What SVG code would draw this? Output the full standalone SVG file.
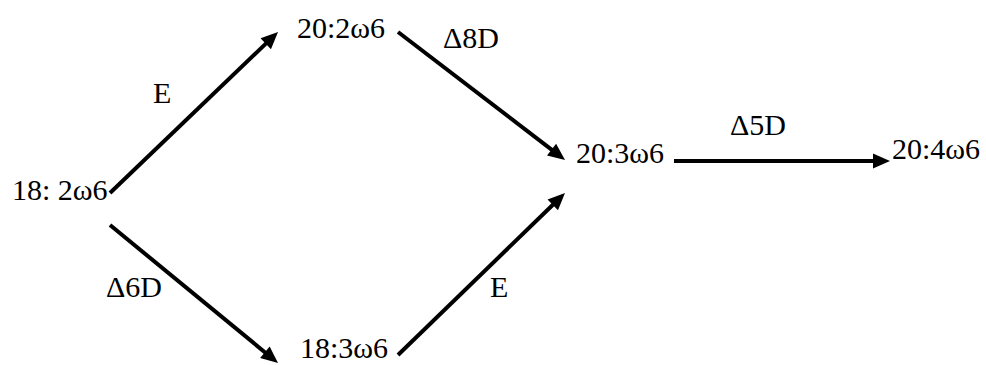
<svg xmlns="http://www.w3.org/2000/svg" width="986" height="365" viewBox="0 0 986 365">
<style>
text{font-family:"Liberation Serif","Times New Roman",serif;font-size:30px;fill:#000}
.c{stroke:#000;stroke-width:4;fill:none;marker-end:url(#ah)}
</style>
<defs>
<marker id="ah" markerUnits="userSpaceOnUse" markerWidth="18" markerHeight="16" refX="7" refY="7.5" orient="auto" overflow="visible">
<path d="M0,0 L17,7.5 L0,15 Z" fill="#000"/>
</marker>
</defs>
<rect width="986" height="365" fill="#fff"/>
<g id="connectors">
<line class="c" x1="110" y1="193" x2="270.8" y2="38.9"/>
<line class="c" x1="110" y1="225" x2="270.3" y2="356.7"/>
<line class="c" x1="398" y1="32" x2="557.1" y2="153.9"/>
<line class="c" x1="398" y1="355" x2="557.8" y2="200"/>
<line class="c" x1="674" y1="161" x2="880" y2="161"/>
<text x="153" y="103">E</text>
<text x="106" y="297">Δ6D</text>
<text x="443" y="48">Δ8D</text>
<text x="490" y="297">E</text>
<text x="730" y="135">Δ5D</text>
</g>
<g id="n1"><text x="12" y="200">18: 2ω6</text></g>
<g id="n2"><text x="297" y="38">20:2ω6</text></g>
<g id="n3"><text x="300" y="358">18:3ω6</text></g>
<g id="n4"><text x="576" y="163">20:3ω6</text></g>
<g id="n5"><text x="892" y="159">20:4ω6</text></g>
</svg>
